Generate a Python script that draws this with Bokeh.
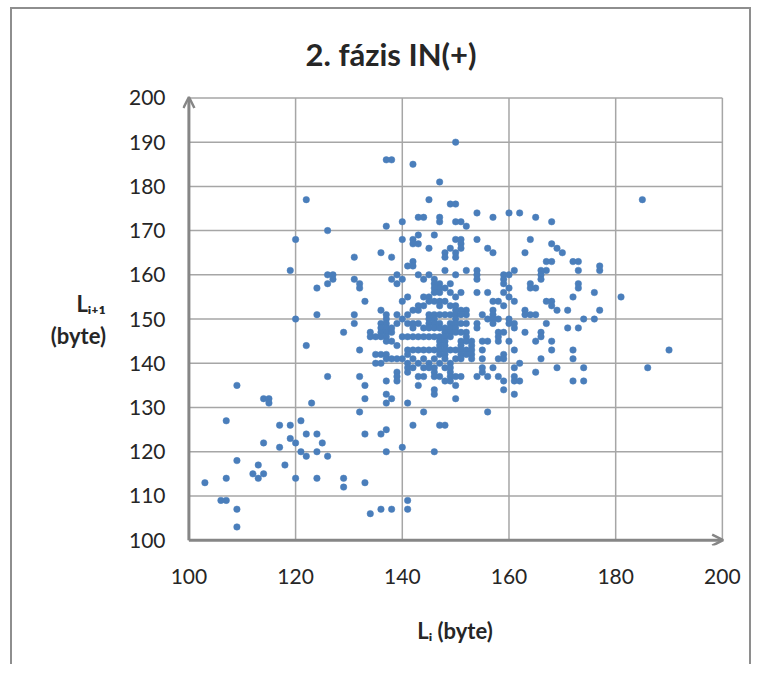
from bokeh.plotting import figure
from bokeh.models import Arrow, OpenHead, FixedTicker, Range1d
from bokeh.embed import file_html
from bokeh.resources import INLINE

# ---- data: (L_i, L_i+1) pairs in bytes ----
band_160_190 = [
    (150, 190), (138, 186), (137, 186), (142, 185), (147, 181), (122, 177), (145, 177), (185, 177),
    (149, 176), (150, 176), (154, 174), (160, 174), (162, 174), (143, 173), (144, 173), (147, 173),
    (157, 173), (165, 173), (147, 172), (150, 172), (140, 172), (151, 172), (168, 172), (137, 171),
    (152, 171), (126, 170), (143, 169), (146, 169), (120, 168), (140, 168), (142, 168), (150, 168),
    (151, 168), (154, 168), (164, 168), (142, 167), (143, 167), (151, 167), (168, 167), (145, 166),
    (149, 166), (151, 166), (156, 166), (169, 166), (131, 164), (136, 165), (138, 164), (148, 165),
    (148, 164), (150, 164), (150, 165), (157, 165), (163, 165), (170, 165), (142, 163), (167, 163),
    (168, 163), (172, 163), (173, 163), (142, 162), (141, 162), (177, 162), (119, 161), (148, 161),
    (152, 161), (154, 161), (161, 161), (166, 161), (167, 161), (173, 161), (177, 161), (126, 160),
    (127, 160), (139, 160), (143, 160), (145, 160), (150, 160), (154, 160), (159, 160), (160, 160),
    (166, 160),
]
band_150_159 = [
    (127, 159), (131, 159), (138, 159), (140, 159), (144, 159), (146, 159), (154, 159), (159, 159),
    (166, 159), (126, 158), (139, 158), (147, 158), (149, 158), (132, 158), (146, 158), (159, 158),
    (164, 158), (173, 158), (147, 157), (148, 157), (132, 157), (124, 157), (146, 157), (164, 157),
    (165, 157), (173, 157), (160, 157), (146, 156), (147, 156), (149, 156), (151, 156), (154, 156),
    (156, 156), (159, 156), (176, 156), (141, 155), (145, 155), (150, 155), (160, 155), (172, 155),
    (181, 155), (144, 155), (133, 154), (140, 154), (146, 154), (147, 154), (148, 154), (145, 154),
    (157, 154), (158, 154), (161, 154), (167, 154), (168, 154), (143, 153), (144, 153), (147, 153),
    (149, 153), (150, 153), (159, 153), (168, 153), (142, 152), (136, 152), (143, 152), (151, 152),
    (152, 152), (157, 152), (163, 152), (169, 152), (171, 152), (177, 152), (150, 152), (137, 151),
    (139, 151), (124, 151), (131, 151), (141, 151), (145, 151), (146, 151), (147, 151), (149, 151),
    (148, 151), (150, 151), (152, 151), (155, 151), (157, 151), (163, 151), (164, 151), (165, 151),
    (151, 151), (120, 150), (140, 150), (137, 150), (145, 150), (146, 150), (150, 150), (156, 150),
    (158, 150), (160, 150), (157, 150), (174, 150), (176, 150),
]
band_140_149 = [
    (131, 149), (139, 149), (136, 149), (137, 149), (141, 149), (142, 149), (143, 149), (145, 149),
    (146, 149), (147, 149), (149, 149), (150, 149), (151, 149), (152, 149), (154, 149), (157, 149),
    (160, 149), (161, 149), (167, 149), (136, 148), (137, 148), (138, 148), (142, 148), (144, 148),
    (145, 148), (146, 148), (147, 148), (148, 148), (149, 148), (150, 148), (154, 148), (161, 148),
    (171, 148), (173, 148), (129, 147), (134, 147), (136, 147), (137, 147), (138, 147), (148, 147),
    (149, 147), (150, 147), (151, 147), (152, 147), (158, 147), (159, 147), (163, 147), (166, 147),
    (135, 146), (134, 146), (136, 146), (137, 146), (140, 146), (141, 146), (142, 146), (143, 146),
    (144, 146), (145, 146), (146, 146), (147, 146), (148, 146), (149, 146), (152, 146), (158, 146),
    (166, 146), (137, 145), (138, 145), (147, 145), (148, 145), (151, 145), (152, 145), (153, 145),
    (155, 145), (156, 145), (158, 145), (160, 145), (165, 145), (168, 145), (122, 144), (139, 144),
    (147, 144), (148, 144), (151, 144), (153, 144), (132, 143), (141, 143), (142, 143), (143, 143),
    (144, 143), (145, 143), (146, 143), (147, 143), (148, 143), (149, 143), (150, 143), (151, 143),
    (152, 143), (153, 143), (155, 143), (161, 143), (168, 143), (172, 143), (190, 143), (135, 142),
    (136, 142), (137, 142), (141, 142), (147, 142), (148, 142), (151, 142), (152, 142), (153, 142),
    (159, 142), (137, 141), (138, 141), (139, 141), (140, 141), (142, 141), (144, 141), (146, 141),
    (148, 141), (150, 141), (151, 141), (153, 141), (155, 141), (158, 141), (159, 141), (166, 141),
    (172, 141), (135, 140), (136, 140), (141, 140), (143, 140), (145, 140), (147, 140), (149, 140),
    (162, 140),
]
band_130_139 = [
    (141, 139), (142, 139), (144, 139), (145, 139), (146, 139), (148, 139), (149, 139), (155, 139),
    (157, 139), (161, 139), (169, 139), (174, 139), (186, 139), (139, 138), (141, 138), (146, 138),
    (149, 138), (155, 138), (165, 138), (126, 137), (132, 137), (139, 137), (143, 137), (144, 137),
    (146, 137), (147, 137), (149, 137), (150, 137), (151, 137), (154, 137), (156, 137), (158, 137),
    (161, 137), (137, 136), (139, 136), (148, 136), (149, 136), (159, 136), (161, 136), (162, 136),
    (172, 136), (174, 136), (109, 135), (133, 135), (143, 135), (150, 135), (146, 134), (159, 134),
    (137, 133), (146, 133), (161, 133), (133, 132), (138, 132), (150, 132), (114, 132), (115, 132),
    (137, 131), (141, 131), (115, 131), (123, 131),
]
band_100_129 = [
    (132, 129), (144, 129), (156, 129), (107, 127), (121, 127), (117, 126), (119, 126), (142, 126),
    (147, 126), (148, 126), (137, 125), (122, 124), (124, 124), (133, 124), (136, 124), (119, 123),
    (114, 122), (120, 122), (125, 122), (117, 121), (140, 121), (121, 120), (124, 120), (137, 120),
    (146, 120), (122, 119), (126, 119), (109, 118), (113, 117), (118, 117), (112, 115), (114, 115),
    (107, 114), (113, 114), (120, 114), (124, 114), (129, 114), (103, 113), (133, 113), (129, 112),
    (106, 109), (107, 109), (141, 109), (109, 107), (136, 107), (138, 107), (141, 107), (134, 106),
    (109, 103),
]

x_ticks = [100, 120, 140, 160, 180, 200]
y_ticks = [100, 110, 120, 130, 140, 150, 160, 170, 180, 190, 200]
title_text = "2. fázis IN(+)"
x_title = "L\u1d62 (byte)"
y_title = "L\u1d62\u208a\u2081\n(byte)"

all_pts = band_160_190 + band_150_159 + band_140_149 + band_130_139 + band_100_129
li = [p[0] for p in all_pts]
li1 = [p[1] for p in all_pts]

AXIS = "#868686"
GRID = "#a6a6a6"
DOT = "#4a7ebb"
TXT = "#262626"
FONT = "Lato"

x0, x1 = x_ticks[0], x_ticks[-1]
y0, y1 = y_ticks[0], y_ticks[-1]

p = figure(frame_width=545, frame_height=452,
           min_border_left=170, min_border_right=22, min_border_top=84, min_border_bottom=119,
           x_range=Range1d(x0 - 1.2, x1 + 0.96), y_range=Range1d(y0 - 1.2, y1 + 1.0),
           output_backend="svg", toolbar_location=None, background_fill_color="white",
           border_fill_color="white")
p.styles = {"border-left": "2px solid #8e8e8e", "border-top": "2px solid #8e8e8e",
            "border-right": "2px solid #8e8e8e", "margin-left": "10px", "margin-top": "7px"}

p.outline_line_color = None
p.xgrid.visible = False
p.ygrid.visible = False

p.title.text = title_text
p.title.text_font = FONT
p.title.text_font_size = "31px"
p.title.text_font_style = "bold"
p.title.text_color = TXT
p.title.align = "left"
p.title.offset = 123
p.title.standoff = 42

for ax, ticks in ((p.xaxis, x_ticks), (p.yaxis, y_ticks)):
    ax.ticker = FixedTicker(ticks=ticks)
    ax.major_tick_in = 0
    ax.major_tick_out = 0
    ax.minor_tick_in = 0
    ax.minor_tick_out = 0
    ax.axis_line_color = None
    ax.major_label_text_font = FONT
    ax.major_label_text_font_size = "21px"
    ax.major_label_text_color = TXT
    ax.axis_label_text_font = FONT
    ax.axis_label_text_font_style = "bold"
    ax.axis_label_text_font_size = "22px"
    ax.axis_label_text_color = TXT
p.xaxis.major_label_standoff = 23
p.yaxis.major_label_standoff = 17
p.xaxis.axis_label = x_title
p.xaxis.axis_label_standoff = 30
p.yaxis.axis_label = y_title
p.yaxis.axis_label_orientation = "horizontal"
p.yaxis.axis_label_standoff = 20

# grid lines limited to the data box
p.segment(x0=x_ticks, y0=[y0] * len(x_ticks), x1=x_ticks, y1=[y1] * len(x_ticks),
          line_color=GRID, line_width=1.5)
p.segment(x0=[x0] * len(y_ticks), y0=y_ticks, x1=[x1] * len(y_ticks), y1=y_ticks,
          line_color=GRID, line_width=1.5)

p.scatter(li, li1, size=6.5, marker="circle", fill_color=DOT, line_color=DOT, line_width=0.5)

# axis lines with arrow heads
p.add_layout(Arrow(end=OpenHead(size=11, line_color=AXIS, line_width=2.5),
                   x_start=x0, y_start=y0, x_end=x1 + 0.15, y_end=y0,
                   line_color=AXIS, line_width=3))
p.add_layout(Arrow(end=OpenHead(size=11, line_color=AXIS, line_width=2.5),
                   x_start=x0, y_start=y0, x_end=x0, y_end=y1 + 0.2,
                   line_color=AXIS, line_width=3))

open("out.html", "w").write(file_html(p, INLINE))
